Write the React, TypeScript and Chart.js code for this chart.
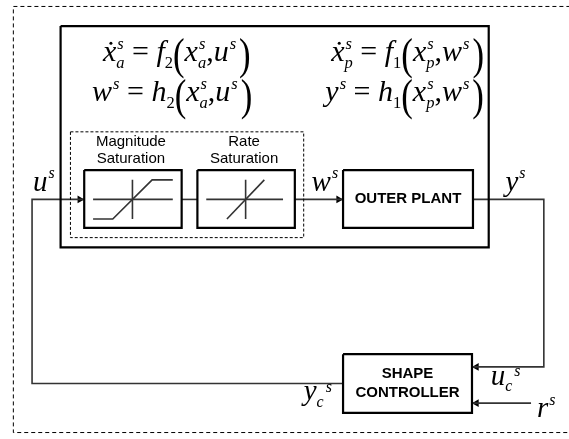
import React, { useEffect, useRef } from "react";
import { Chart, registerables } from "chart.js";
Chart.register(...registerables);

const W = 569;
const H = 439;

// Frames (polylines in diagram units = pixels)
const outerFrame = [[575, 2], [9, 2], [9, 437], [575, 437]];
const plantFrame = [[57, 22], [492, 22], [492, 248], [57, 248], [57, 22]];
const actuatorFrame = [[67, 130], [304, 130], [304, 238], [67, 238], [67, 130]];

// Blocks
const blockNames = ["Magnitude\nSaturation", "Rate\nSaturation", "OUTER PLANT", "SHAPE\nCONTROLLER"];
const blockLeft = [81, 196, 344, 344];
const blockRight = [180, 295, 476, 475];
const blockTop = [169, 169, 169, 357];
const blockBottom = [228, 228, 228, 417];
const blockLabelInside = [false, false, true, true];

// Signal connectors (last point gets an arrow when flag set)
const connectors = [
  [[344, 387], [28, 387], [28, 199], [81, 199]],
  [[180, 199], [196, 199]],
  [[295, 199], [344, 199]],
  [[476, 199], [548, 199], [548, 370], [475, 370]],
  [[535, 407], [475, 407]],
];
const connectorArrow = [true, false, true, true, true];

// Icons inside the saturation blocks
const icons = [
  [[90, 199], [171, 199]],
  [[130, 179], [130, 219]],
  [[90, 219], [110, 219], [150, 179], [171, 179]],
  [[205, 199], [283, 199]],
  [[245, 179], [245, 219]],
  [[226, 219], [264, 179]],
];

// Math labels
type Tok = { t?: string; k?: "i" | "r" | "big" | "dot"; sub?: string; sup?: string; subR?: boolean; seq?: boolean; gap?: number };
const eqTokens: Tok[][] = [
  [{ t: "x", k: "dot", sub: "a", sup: "s" }, { t: " = ", k: "r" }, { t: "f", k: "i", sub: "2", subR: true }, { t: "(", k: "big" }, { t: "x", k: "i", sub: "a", sup: "s" }, { t: ",", k: "r" }, { t: "u", k: "i", sup: "s" }, { t: ")", k: "big", gap: 3 }],
  [{ t: "w", k: "i", sup: "s" }, { t: " = ", k: "r" }, { t: "h", k: "i", sub: "2", subR: true }, { t: "(", k: "big" }, { t: "x", k: "i", sub: "a", sup: "s" }, { t: ",", k: "r" }, { t: "u", k: "i", sup: "s" }, { t: ")", k: "big", gap: 3 }],
  [{ t: "x", k: "dot", sub: "p", sup: "s" }, { t: " = ", k: "r" }, { t: "f", k: "i", sub: "1", subR: true }, { t: "(", k: "big" }, { t: "x", k: "i", sub: "p", sup: "s" }, { t: ",", k: "r" }, { t: "w", k: "i", sup: "s" }, { t: ")", k: "big", gap: 3 }],
  [{ t: "y", k: "i", sup: "s" }, { t: " = ", k: "r" }, { t: "h", k: "i", sub: "1", subR: true }, { t: "(", k: "big" }, { t: "x", k: "i", sub: "p", sup: "s" }, { t: ",", k: "r" }, { t: "w", k: "i", sup: "s" }, { t: ")", k: "big", gap: 3 }],
];
const eqX = [100, 89, 332, 326];
const eqY = [58, 99, 58, 99];

const sigTokens: Tok[][] = [
  [{ t: "u", k: "i", sup: "s" }],
  [{ t: "w", k: "i", sup: "s" }],
  [{ t: "y", k: "i", sup: "s" }],
  [{ t: "u", k: "i", sub: "c", sup: "s", seq: true }],
  [{ t: "y", k: "i", sub: "c", sup: "s", seq: true }],
  [{ t: "r", k: "i", sup: "s" }],
];
const sigX = [29, 312, 509, 494, 304, 541];
const sigY = [190, 190, 190, 388, 404, 421];

const SERIF = '"Liberation Serif", "Times New Roman", serif';
const SANS = '"Liberation Sans", Arial, sans-serif';

function drawMath(ctx: CanvasRenderingContext2D, x: number, y: number, toks: Tok[], size: number) {
  let cx = x;
  ctx.textAlign = "left";
  ctx.textBaseline = "alphabetic";
  for (const tk of toks) {
    cx += tk.gap || 0;
    if (tk.t) {
      if (tk.k === "big") {
        ctx.save();
        const bs = size * 1.45;
        ctx.font = `${bs}px ${SERIF}`;
        const w = ctx.measureText(tk.t).width * 0.8;
        ctx.translate(cx, y + size * 0.27);
        ctx.scale(0.8, 1);
        ctx.fillText(tk.t, 0, 0);
        ctx.restore();
        cx += w;
      } else {
        ctx.font = `${tk.k === "r" ? "" : "italic "}${size}px ${SERIF}`;
        ctx.fillText(tk.t, cx, y);
        const w = ctx.measureText(tk.t).width;
        if (tk.k === "dot") {
          ctx.beginPath();
          ctx.arc(cx + w * 0.6, y - size * 0.6, size * 0.05, 0, Math.PI * 2);
          ctx.fill();
        }
        cx += w;
      }
    }
    if (tk.sub || tk.sup) {
      const s = size * 0.55;
      let w = 0;
      if (tk.sub) {
        ctx.font = `${tk.subR ? "" : "italic "}${s}px ${SERIF}`;
        ctx.fillText(tk.sub, cx, y + size * 0.22);
        w = Math.max(w, ctx.measureText(tk.sub).width);
      }
      if (tk.sup) {
        ctx.font = `italic ${s}px ${SERIF}`;
        const sx = tk.seq ? cx + w + 2 : cx + 1;
        const sy = tk.seq ? y - size * 0.3 : y - size * 0.42;
        ctx.fillText(tk.sup, sx, sy);
        w = tk.seq ? w + 2 + ctx.measureText(tk.sup).width : Math.max(w, ctx.measureText(tk.sup).width + 1);
      }
      cx += w;
    }
  }
}

const toXY = (pts: number[][]) => pts.map(([x, y]) => ({ x, y }));

export default function App() {
  const ref = useRef<HTMLCanvasElement | null>(null);
  useEffect(() => {
    const canvas = ref.current!;
    const datasets: any[] = [];
    const line = (pts: number[][], width: number, color: string, dash: number[] = []) => ({
      type: "scatter",
      data: toXY(pts),
      showLine: true,
      borderColor: color,
      borderWidth: width,
      borderDash: dash,
      pointRadius: 0,
      fill: false,
      tension: 0,
      clip: false,
    });
    datasets.push(line(outerFrame, 1, "#000", [4, 3]));
    datasets.push(line(plantFrame, 2.2, "#000"));
    datasets.push(line(actuatorFrame, 1, "#000", [3, 2]));
    blockNames.forEach((_, i) => {
      const l = blockLeft[i], r = blockRight[i], t = blockTop[i], b = blockBottom[i];
      datasets.push(line([[l, t], [r, t], [r, b], [l, b], [l, t]], 2.2, "#000"));
    });
    connectors.forEach((c) => datasets.push(line(c, 1.6, "#333")));
    icons.forEach((c) => datasets.push(line(c, 1.6, "#333")));
    const R = 4.5;
    const arrowPts: any[] = [];
    const arrowRot: number[] = [];
    connectors.forEach((c, i) => {
      if (!connectorArrow[i]) return;
      const [x1, y1] = c[c.length - 1];
      const [x0, y0] = c[c.length - 2];
      const len = Math.hypot(x1 - x0, y1 - y0);
      const dx = (x1 - x0) / len, dy = (y1 - y0) / len;
      arrowPts.push({ x: x1 - dx * R, y: y1 - dy * R });
      arrowRot.push((Math.atan2(dy, dx) * 180) / Math.PI + 90);
    });
    datasets.push({
      type: "scatter",
      data: arrowPts,
      pointStyle: "triangle",
      pointRadius: R,
      pointRotation: arrowRot,
      pointBackgroundColor: "#000",
      pointBorderWidth: 0,
      showLine: false,
      clip: false,
    });

    const textPlugin = {
      id: "diagramText",
      afterDatasetsDraw(chart: any) {
        const ctx: CanvasRenderingContext2D = chart.ctx;
        const xs = chart.scales.x, ys = chart.scales.y;
        ctx.save();
        ctx.fillStyle = "#000";
        blockNames.forEach((name, i) => {
          const lines = name.split("\n");
          const cx = xs.getPixelForValue((blockLeft[i] + blockRight[i]) / 2);
          ctx.textAlign = "center";
          ctx.textBaseline = "middle";
          if (blockLabelInside[i]) {
            ctx.font = `bold 15px ${SANS}`;
            const cy = ys.getPixelForValue((blockTop[i] + blockBottom[i]) / 2);
            const lh = 19;
            lines.forEach((ln, j) => ctx.fillText(ln, cx, cy + (j - (lines.length - 1) / 2) * lh));
          } else {
            ctx.font = `15px ${SANS}`;
            const by = ys.getPixelForValue(blockTop[i]);
            lines.forEach((ln, j) => ctx.fillText(ln, cx - 2, by - 28 + j * 17));
          }
        });
        eqTokens.forEach((toks, i) => drawMath(ctx, xs.getPixelForValue(eqX[i]), ys.getPixelForValue(eqY[i]), toks, 30));
        sigTokens.forEach((toks, i) => drawMath(ctx, xs.getPixelForValue(sigX[i]), ys.getPixelForValue(sigY[i]), toks, 29));
        ctx.restore();
      },
    };

    const chart = new Chart(canvas, {
      type: "scatter",
      data: { datasets },
      options: {
        animation: false,
        responsive: false,
        maintainAspectRatio: false,
        layout: { padding: 0 },
        plugins: { legend: { display: false }, tooltip: { enabled: false } },
        scales: {
          x: { type: "linear", min: 0, max: W, display: false },
          y: { type: "linear", min: 0, max: H, reverse: true, display: false },
        },
      },
      plugins: [textPlugin],
    } as any);
    return () => chart.destroy();
  }, []);
  return (
    <div style={{ position: "fixed", left: 0, top: 0, width: W, height: H, background: "#fff" }}>
      <canvas ref={ref} width={W} height={H} style={{ width: W, height: H, display: "block" }} />
    </div>
  );
}
